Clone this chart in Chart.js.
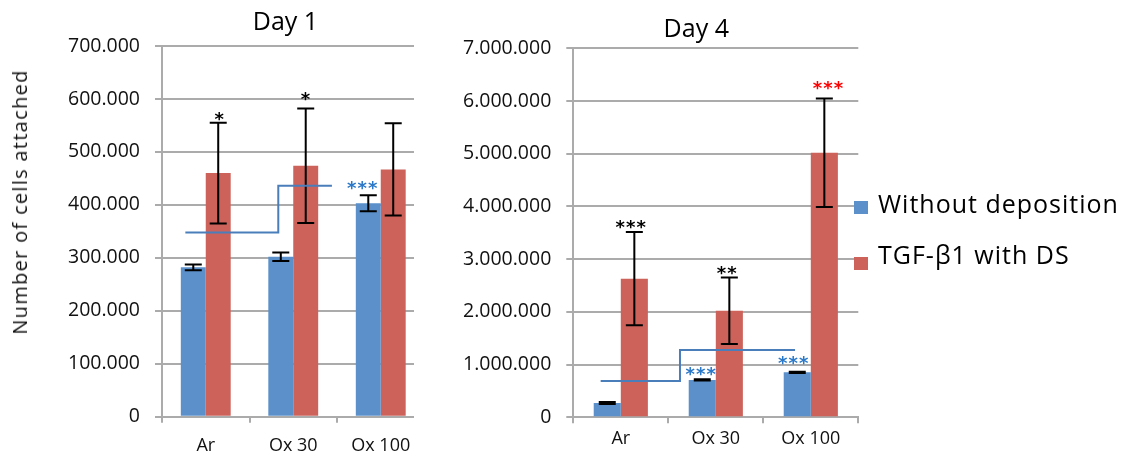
<!DOCTYPE html>
<html><head><meta charset="utf-8">
<script src="https://cdn.jsdelivr.net/npm/chart.js@4.4.0/dist/chart.umd.min.js"></script>
<style>
html,body{margin:0;padding:0;background:#fff;}
body{width:1130px;height:458px;position:relative;overflow:hidden;font-family:'Open Sans',sans-serif;color:#111;}
#w1{position:absolute;left:0;top:0;width:414px;height:458px;overflow:hidden;}
#w2{position:absolute;left:440px;top:0;width:430px;height:458px;}
canvas{position:absolute;left:0;top:0;}
.ttl{position:absolute;font-size:25px;line-height:25px;white-space:nowrap;transform:translateX(-50%);color:#000;}
#ytitle{position:absolute;left:20px;top:201.5px;font-size:20px;line-height:20px;letter-spacing:1.3px;white-space:nowrap;transform:translate(-50%,-50%) rotate(-90deg);color:#111;}
.sw{position:absolute;width:14px;height:13px;z-index:5;}
.lt{position:absolute;font-size:25px;line-height:25px;letter-spacing:1px;white-space:nowrap;z-index:5;color:#000;}
</style>
</head><body>
<div id="w1"><canvas id="c1" width="440" height="458" style="width:440px;height:458px"></canvas></div>
<div id="w2"><canvas id="c2" width="430" height="458" style="width:430px;height:458px"></canvas></div>
<div class="ttl" style="left:285.5px;top:7.5px">Day 1</div>
<div class="ttl" style="left:696.3px;top:15px">Day 4</div>
<div id="ytitle">Number of cells attached</div>
<div class="sw" id="sw1" style="left:854px;top:201px"></div>
<div class="lt" id="lt1" style="left:878px;top:191px"></div>
<div class="sw" id="sw2" style="left:854px;top:257px"></div>
<div class="lt" id="lt2" style="left:878px;top:242px"></div>
<script>
// ---------- data ----------
const categories = ['Ar', 'Ox 30', 'Ox 100'];
const seriesNames = ['Without deposition', 'TGF-\u03B21 with DS'];

const day1Without = [282000, 302000, 403000];
const day1WithoutErr = [5500, 8000, 15000];
const day1TGF = [460000, 474000, 467000];
const day1TGFErr = [95000, 108000, 87000];

const day4Without = [270000, 708000, 854000];
const day4WithoutErr = [20000, 12000, 12000];
const day4TGF = [2630000, 2020000, 5020000];
const day4TGFErr = [885000, 630000, 1030000];

const day1TickLabels = ['0', '100.000', '200.000', '300.000', '400.000', '500.000', '600.000', '700.000'];
const day4TickLabels = ['0', '1.000.000', '2.000.000', '3.000.000', '4.000.000', '5.000.000', '6.000.000', '7.000.000'];

// significance brackets (category index, value)
const day1BracketX = [-0.233, 0.829, 0.829, 1.442];
const day1BracketY = [348000, 348000, 436000, 436000];
const day4BracketX = [-0.212, 0.623, 0.623, 1.834];
const day4BracketY = [689000, 689000, 1277000, 1277000];

// significance marks (category index, value)
const day1StarX = [0.155, 1.139, 1.788];
const day1StarY = [570000, 609000, 441000];
const day1StarText = ['*', '*', '***'];
const day1StarKind = ['black', 'black', 'blue'];

const day4StarX = [0.105, 1.115, 0.841, 1.816, 2.181];
const day4StarY = [3690000, 2814000, 911000, 1120000, 6338000];
const day4StarText = ['***', '**', '***', '***', '***'];
const day4StarKind = ['black', 'black', 'blue', 'blue', 'red'];

// ---------- style ----------
const BLUE = '#5b90cb';
const RED = '#cc625a';
const GRID = '#ababab';
const BRACKET = '#4a7ebb';
const STAR_COLORS = {black: '#000000', blue: '#2a78c8', red: '#ff0000'};
const TICK_COLOR = '#111111';

document.getElementById('sw1').style.background = BLUE;
document.getElementById('sw2').style.background = RED;
document.getElementById('lt1').textContent = seriesNames[0];
document.getElementById('lt2').textContent = seriesNames[1];

const errorBarPlugin = {
  id: 'errorBars',
  afterDatasetsDraw(chart, args, opts) {
    const ctx = chart.ctx, ys = chart.scales.y;
    chart.data.datasets.forEach((ds, i) => {
      const meta = chart.getDatasetMeta(i);
      meta.data.forEach((bar, j) => {
        const v = ds.data[j], e = ds.errors[j];
        const yt = ys.getPixelForValue(v + e), yb = ys.getPixelForValue(v - e);
        const x = bar.x, h = opts.cap / 2;
        ctx.save();
        ctx.strokeStyle = '#000'; ctx.lineWidth = 2;
        ctx.beginPath();
        ctx.moveTo(x, yt); ctx.lineTo(x, yb);
        ctx.moveTo(x - h, yt); ctx.lineTo(x + h, yt);
        ctx.moveTo(x - h, yb); ctx.lineTo(x + h, yb);
        ctx.stroke();
        ctx.restore();
      });
    });
  }
};

const bracketPlugin = {
  id: 'brackets',
  afterDraw(chart, args, opts) {
    const ctx = chart.ctx, xs = chart.scales.x, ys = chart.scales.y;
    ctx.save();
    ctx.strokeStyle = BRACKET; ctx.lineWidth = 2; ctx.lineJoin = 'miter';
    ctx.beginPath();
    opts.xs.forEach((xv, k) => {
      const px = xs.getPixelForValue(xv), py = ys.getPixelForValue(opts.ys[k]);
      if (k === 0) ctx.moveTo(px, py); else ctx.lineTo(px, py);
    });
    ctx.stroke();
    ctx.restore();
  }
};

const starPlugin = {
  id: 'stars',
  afterDraw(chart, args, opts) {
    const ctx = chart.ctx, xs = chart.scales.x, ys = chart.scales.y;
    opts.xs.forEach((xv, k) => {
      const cx = xs.getPixelForValue(xv), cy = ys.getPixelForValue(opts.ys[k]);
      const t = opts.text[k], n = t.length;
      ctx.save();
      ctx.fillStyle = STAR_COLORS[opts.kind[k]];
      ctx.font = 'bold 18px "DejaVu Sans"';
      ctx.textAlign = 'center'; ctx.textBaseline = 'alphabetic';
      for (let m = 0; m < n; m++) ctx.fillText(t[m], cx + (m - (n - 1) / 2) * 10.5, cy + 10.5);
      ctx.restore();
    });
  }
};

function makeChart(id, cfg) {
  return new Chart(document.getElementById(id), {
    type: 'bar',
    data: {
      labels: categories,
      datasets: [
        {label: seriesNames[0], data: cfg.a, errors: cfg.aErr, backgroundColor: BLUE, borderWidth: 0},
        {label: seriesNames[1], data: cfg.b, errors: cfg.bErr, backgroundColor: RED, borderWidth: 0}
      ]
    },
    options: {
      responsive: false, animation: false,
      devicePixelRatio: 1,
      datasets: {bar: {barPercentage: 1, categoryPercentage: 0.57}},
      layout: {padding: cfg.padding},
      plugins: {
        legend: {display: false}, tooltip: {enabled: false}, title: {display: false},
        errorBars: {cap: 17},
        brackets: {xs: cfg.bx, ys: cfg.by},
        stars: {xs: cfg.sx, ys: cfg.sy, text: cfg.st, kind: cfg.sk}
      },
      scales: {
        x: {
          offset: true,
          grid: {display: true, drawOnChartArea: false, drawTicks: true, tickLength: 6, offset: true, color: GRID, lineWidth: 2},
          border: {display: true, color: GRID, width: 2},
          ticks: {color: TICK_COLOR, font: {family: 'Open Sans', size: 18}, padding: cfg.xPad, maxRotation: 0},
          afterFit(s) { s.height = cfg.xHeight; }
        },
        y: {
          min: 0, max: cfg.max,
          grid: {color: GRID, lineWidth: 2, drawTicks: true, tickLength: 7},
          border: {display: true, color: GRID, width: 2},
          ticks: {stepSize: cfg.max / 7, color: TICK_COLOR, font: {family: 'Open Sans', size: 19.5}, padding: 15,
                  callback: (v, i) => cfg.tickLabels[i]},
          afterFit(s) { s.width = cfg.yWidth; }
        }
      }
    },
    plugins: [errorBarPlugin, bracketPlugin, starPlugin]
  });
}

makeChart('c1', {
  a: day1Without, aErr: day1WithoutErr, b: day1TGF, bErr: day1TGFErr,
  max: 700000, tickLabels: day1TickLabels,
  padding: {left: 0, top: 46, right: 15.5, bottom: 0},
  yWidth: 162, xHeight: 41.3, xPad: 12,
  bx: day1BracketX, by: day1BracketY,
  sx: day1StarX, sy: day1StarY, st: day1StarText, sk: day1StarKind
});
makeChart('c2', {
  a: day4Without, aErr: day4WithoutErr, b: day4TGF, bErr: day4TGFErr,
  max: 7000000, tickLabels: day4TickLabels,
  padding: {left: 0, top: 48.3, right: 11.7, bottom: 0},
  yWidth: 133.3, xHeight: 40.7, xPad: 5,
  bx: day4BracketX, by: day4BracketY,
  sx: day4StarX, sy: day4StarY, st: day4StarText, sk: day4StarKind
});
</script>
</body></html>
